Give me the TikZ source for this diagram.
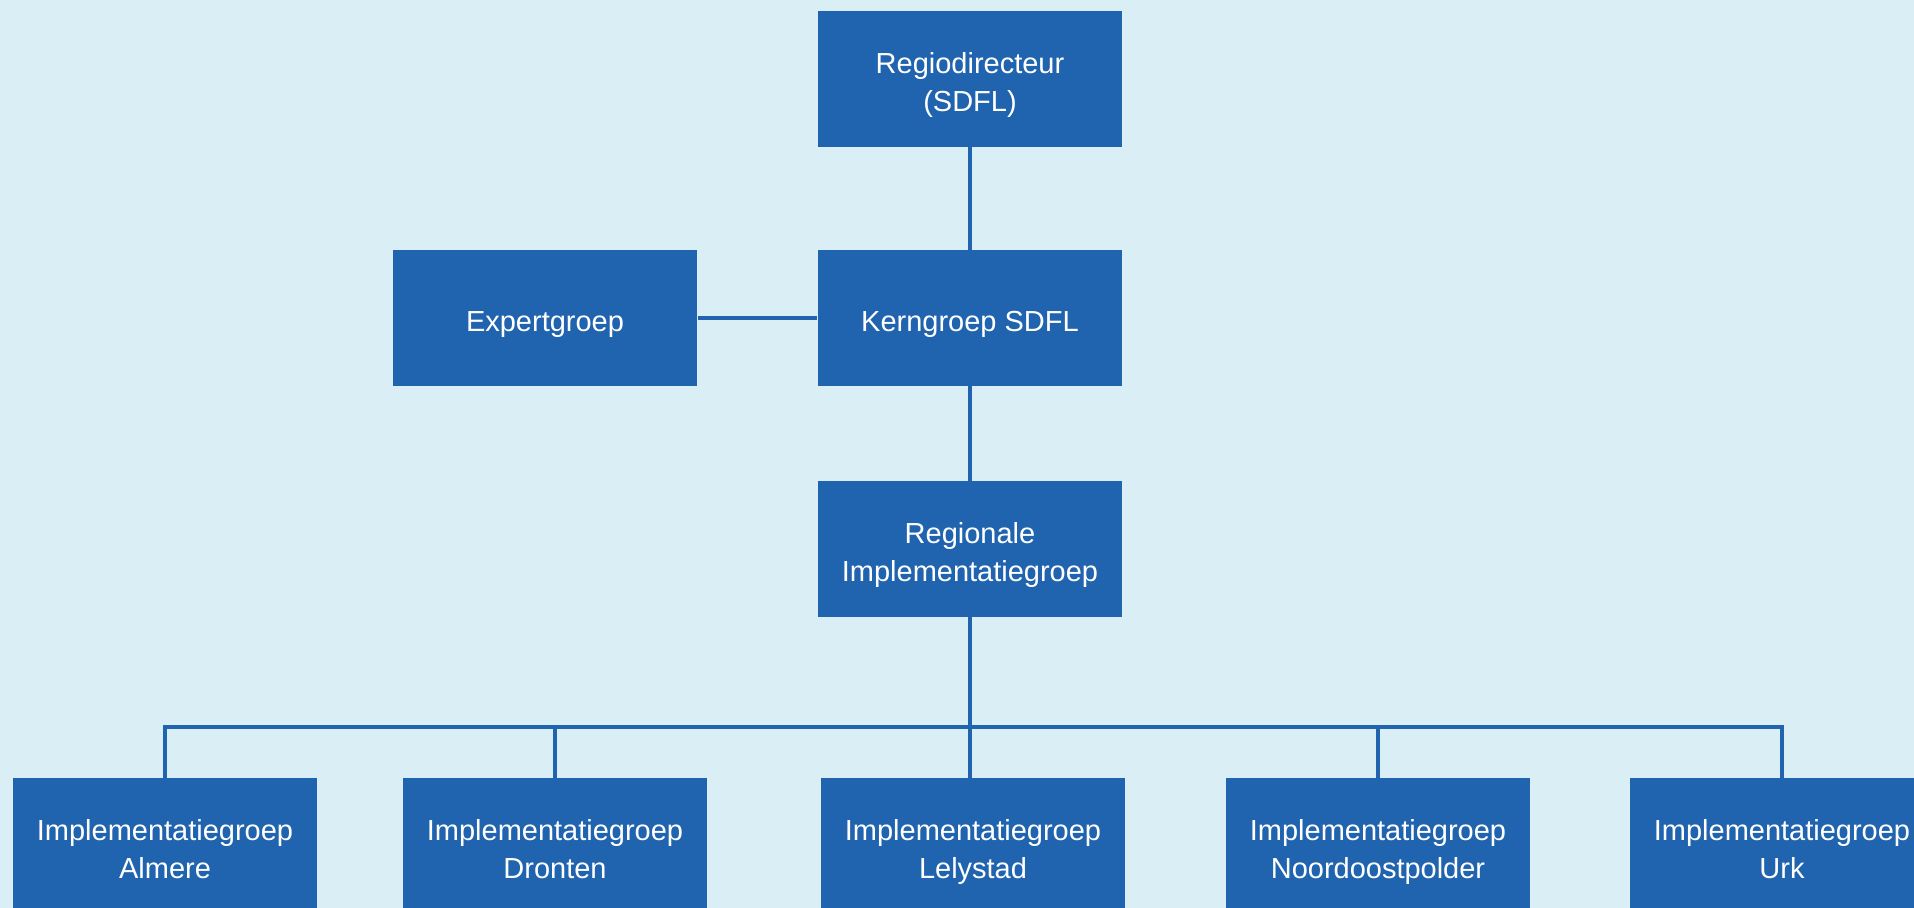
\documentclass[tikz,border=0pt]{standalone}
\usepackage{fontspec}
\setmainfont{Liberation Sans}
\usepackage{tikz}
\usepackage{xcolor}
\definecolor{orgblue}{RGB}{32,99,174}
\definecolor{orgback}{RGB}{218,238,245}
\newcommand{\orgtop}{\rule{0pt}{22pt}}
\tikzset{
    org-box/.style = {fill=orgblue, text=white, rectangle, minimum width=6.1cm, minimum height=2.72cm, align=center, inner sep=2pt, font=\fontsize{16.5}{22}\selectfont, execute at end node=\strut},
    org-line/.style = {draw=orgblue, line width=2.3pt},
}

\begin{document}
\begin{tikzpicture}[x=0.02cm, y=-0.02cm]
\fill[orgback] (0,0) rectangle (1914,908);
\useasboundingbox (0,0) rectangle (1914,908);
\node [org-box] (regio) at (970,79) {\orgtop Regiodirecteur\\(SDFL)};
\node [org-box] (kern) at (970,318) {\orgtop Kerngroep SDFL};
\node [org-box] (expert) at (545,318) {\orgtop Expertgroep};
\node [org-box] (regionaal) at (970,549) {\orgtop Regionale\\Implementatiegroep};
\node [org-box] (almere) at (165,846) {\orgtop Implementatiegroep\\Almere};
\node [org-box] (dronten) at (555,846) {\orgtop Implementatiegroep\\Dronten};
\node [org-box] (lelystad) at (973,846) {\orgtop Implementatiegroep\\Lelystad};
\node [org-box] (noord) at (1378,846) {\orgtop Implementatiegroep\\Noordoostpolder};
\node [org-box] (urk) at (1782,846) {\orgtop Implementatiegroep\\Urk};
\coordinate (bus) at (970,727);
\draw [org-line] (regio) -- (kern);
\draw [org-line] (expert) -- (kern);
\draw [org-line] (kern) -- (regionaal);
\draw [org-line] (regionaal.south) -- (regionaal.south |- lelystad.north);
\draw [org-line] (almere.north) |- (bus) -| (urk.north);
\foreach \grp in {dronten, noord}
    \draw [org-line] (\grp.north) -- (\grp.north |- bus);
\end{tikzpicture}
\end{document}
